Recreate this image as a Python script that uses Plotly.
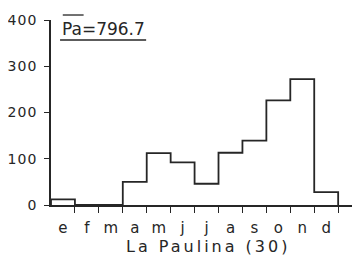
import plotly.graph_objects as go

months = ["e", "f", "m", "a", "m", "j", "j", "a", "s", "o", "n", "d"]
precip = [12, 0, 0, 50, 112, 92, 46, 113, 139, 226, 272, 28]
y_ticks = [0, 100, 200, 300, 400]
title_value = "796.7"
station = "La Paulina (30)"

n = len(months)
xs = [0] + list(range(n)) + [n]
ys = [0] + precip + [0]

ink = "#262626"
font_family = "DejaVu Sans"

fig = go.Figure()
fig.add_trace(go.Scatter(
    x=xs, y=ys, mode="lines", line_shape="hv",
    line=dict(color=ink, width=1.8), hoverinfo="skip", showlegend=False,
))

fig.update_layout(
    width=345, height=249,
    margin=dict(l=40, r=0, t=12, b=52),
    paper_bgcolor="white", plot_bgcolor="white",
    font=dict(family=font_family, color=ink),
    xaxis=dict(
        range=[0, n + 0.62], showgrid=False, zeroline=False,
        showline=True, linecolor=ink, linewidth=1.5,
        tickvals=[i + 0.5 for i in range(n)], ticktext=months,
        ticks="", ticklabelstandoff=8, tickfont=dict(size=15, color=ink),
        minor=dict(tickvals=list(range(1, n + 1)), ticks="outside",
                   ticklen=6, tickwidth=1.2, tickcolor=ink, showgrid=False),
    ),
    yaxis=dict(
        range=[0, 400], showgrid=False, zeroline=False,
        showline=True, linecolor=ink, linewidth=1.8,
        tickvals=y_ticks,
        ticktext=['<span style="letter-spacing:1px">%d</span>' % v for v in y_ticks],
        ticks="outside", ticklen=5, tickwidth=1.2, ticklabelstandoff=4,
        tickcolor=ink, tickfont=dict(size=14, color=ink),
    ),
)

# station name below the month labels
fig.add_annotation(
    xref="paper", yref="paper", x=0.52, y=-0.225, xanchor="center", yanchor="middle",
    text='<span style="letter-spacing:3px">' + station + '</span>', showarrow=False,
    font=dict(size=16, color=ink, family=font_family),
)

# title label with overline on "Pa" and underline
fig.add_annotation(
    xref="paper", yref="paper", x=0.03, y=0.95, xanchor="left", yanchor="middle",
    text="Pa=" + title_value, showarrow=False,
    font=dict(size=17, color=ink, family=font_family),
)
fig.add_shape(type="line", xref="paper", yref="paper",
              x0=0.039, x1=0.108, y0=1.027, y1=1.027,
              line=dict(color=ink, width=1.3))
fig.add_shape(type="line", xref="paper", yref="paper",
              x0=0.03, x1=0.315, y0=0.892, y1=0.892,
              line=dict(color=ink, width=1.5))

fig.write_html("out.html")
